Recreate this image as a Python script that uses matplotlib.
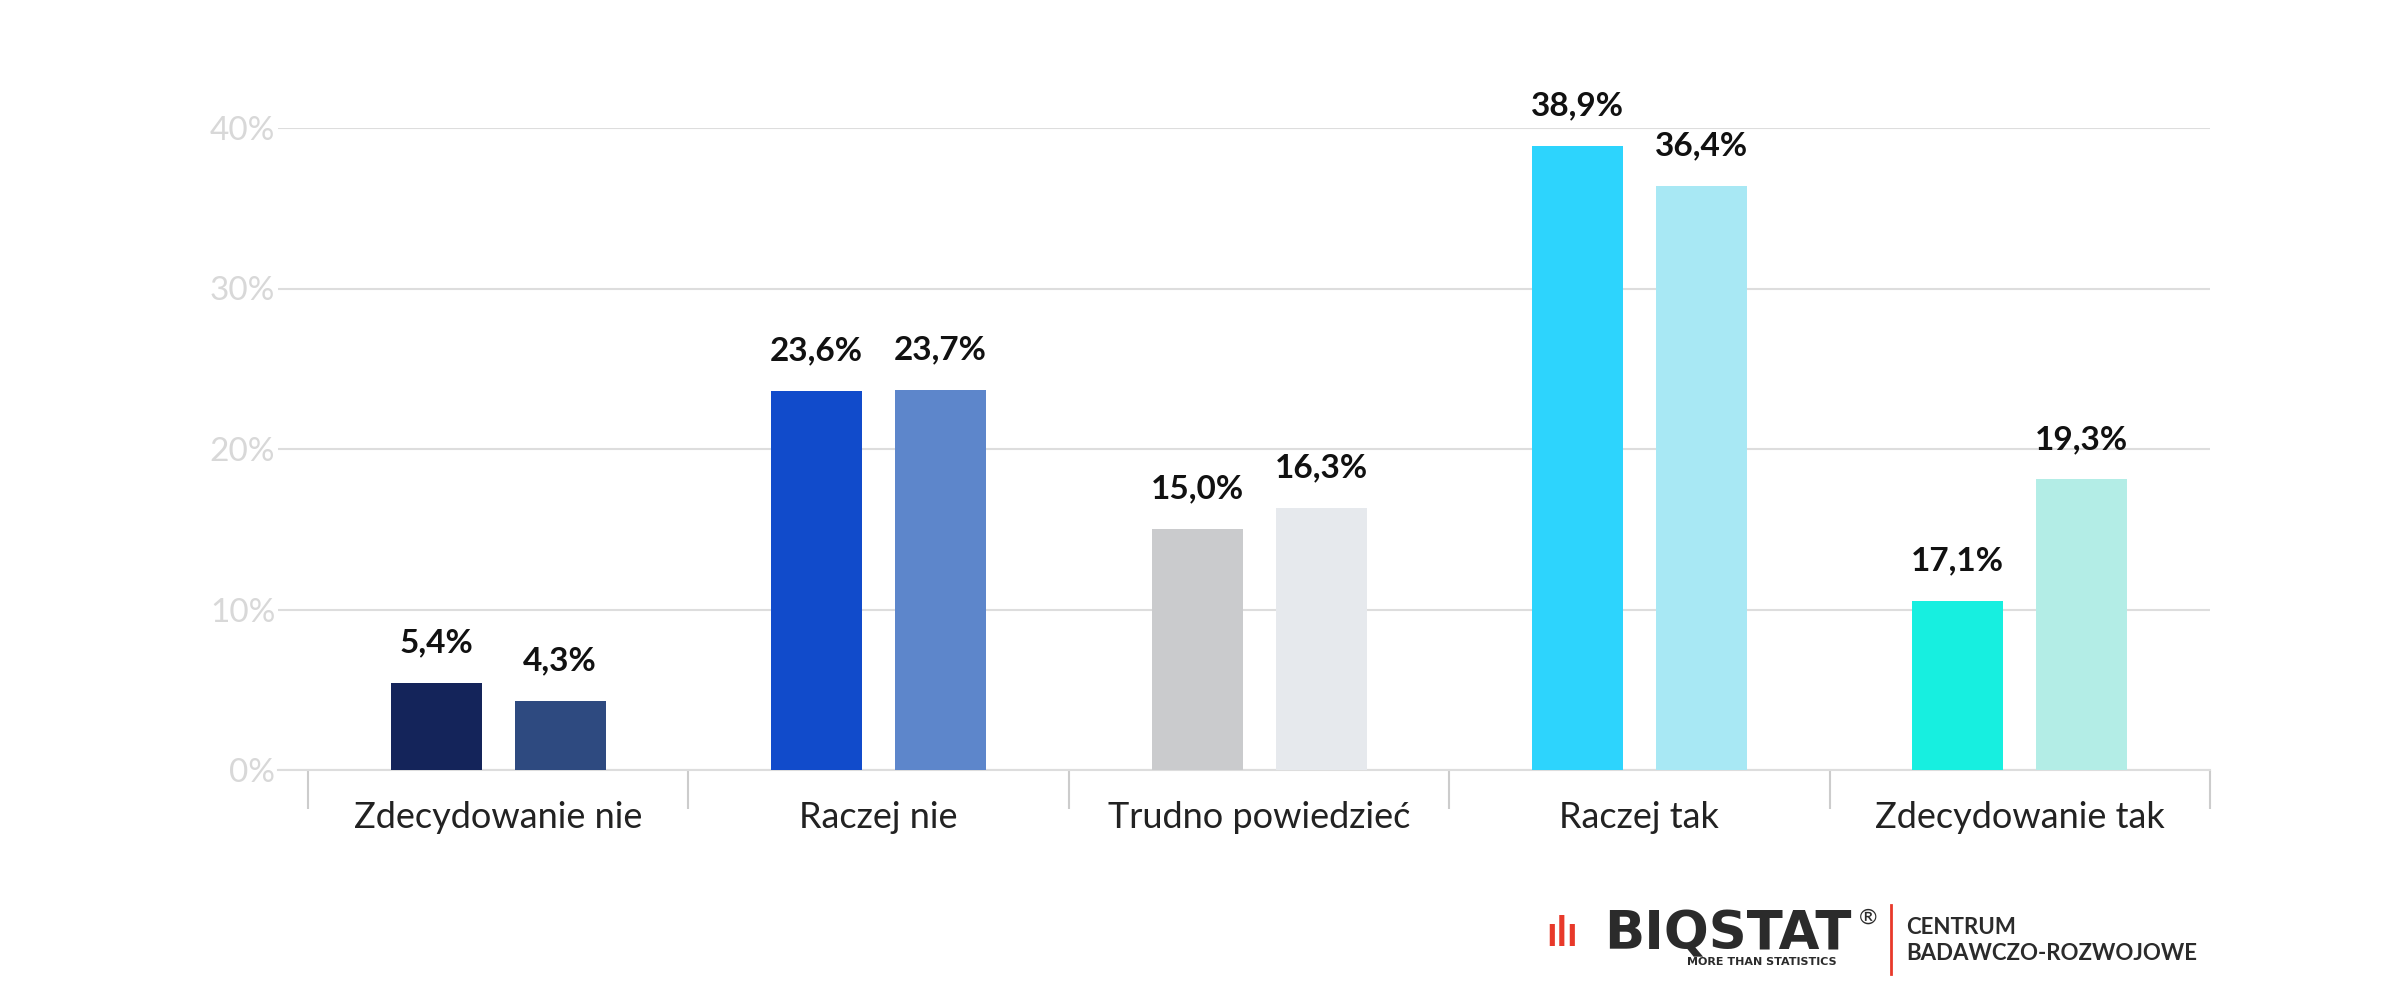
import matplotlib.pyplot as plt
import numpy as np

plt.rcParams['font.family'] = ['Lato', 'DejaVu Sans']

categories = ['Zdecydowanie nie', 'Raczej nie', 'Trudno powiedzieć', 'Raczej tak', 'Zdecydowanie tak']
# bar heights as drawn in the picture, labels as printed
heights_a = [5.4, 23.6, 15.0, 38.9, 10.5]
heights_b = [4.3, 23.7, 16.3, 36.4, 18.1]
labels_a = ['5,4%', '23,6%', '15,0%', '38,9%', '17,1%']
labels_b = ['4,3%', '23,7%', '16,3%', '36,4%', '19,3%']
colors_a = ['#14245a', '#114bcb', '#cacbcd', '#2dd4fd', '#17efe0']
colors_b = ['#2e4a80', '#5d86cb', '#e6e9ed', '#a8e8f4', '#b3ede6']

W, H = 2382, 981
fig = plt.figure(figsize=(W / 100, H / 100), dpi=100)
ax = fig.add_axes([278 / W, 1 - 770 / H, (2210 - 278) / W, (770 - 128) / H])

x = np.arange(len(categories))
off = 62 / 380.4
w = 91 / 380.4
ax.bar(x - off, heights_a, w, color=colors_a, zorder=3)
ax.bar(x + off, heights_b, w, color=colors_b, zorder=3)
for i in x:
    ax.text(i - off, heights_a[i] + 1.6, labels_a[i], ha='center', va='bottom',
            fontsize=24, fontweight='bold', color='#111111')
    ax.text(i + off, heights_b[i] + 1.6, labels_b[i], ha='center', va='bottom',
            fontsize=24, fontweight='bold', color='#111111')

ax.set_xlim(-0.5 - 30 / 380.4, 4.5)
ax.set_ylim(0, 40)
ax.set_yticks([0, 10, 20, 30, 40])
ax.set_yticklabels(['0%', '10%', '20%', '30%', '40%'], fontsize=24, color='#d8d8d8')
ax.yaxis.grid(True, color='#dddddd', linewidth=1.5, zorder=0)
ax.tick_params(axis='y', length=0, pad=2)
ax.set_xticks(np.arange(-0.5, 5, 1), minor=False)
ax.set_xticklabels([])
ax.set_xticks(x, minor=True)
ax.set_xticklabels(categories, minor=True, fontsize=26, color='#222222')
ax.tick_params(axis='x', which='major', length=28, color='#cccccc', width=1.5)
ax.tick_params(axis='x', which='minor', length=0, pad=22)
for s in ['top', 'right', 'left']:
    ax.spines[s].set_visible(False)
ax.spines['bottom'].set_color('#dddddd')
ax.spines['bottom'].set_linewidth(1.5)

# logo
fig.text(1546 / W, 1 - 934 / H, 'ılı', fontsize=30, fontweight='bold', color='#e8392a', ha='left', va='center')
fig.text(1728 / W, 1 - 934 / H, 'BIQSTAT', fontsize=38, fontweight='bold', color='#2b2b2b',
         ha='center', va='center', family='DejaVu Sans')
fig.text(1868 / W, 1 - 918 / H, '®', fontsize=16, color='#2b2b2b', ha='center', va='center')
fig.text(1762 / W, 1 - 962 / H, 'MORE THAN STATISTICS', fontsize=8, fontweight='bold', color='#2b2b2b',
         ha='center', va='center', family='DejaVu Sans')
fig.add_artist(plt.Line2D([1891 / W, 1891 / W], [1 - 905 / H, 1 - 974 / H], color='#e8392a', lw=2))
fig.text(1906 / W, 1 - 927 / H, 'CENTRUM', fontsize=16, fontweight='bold', color='#2b2b2b', ha='left', va='center')
fig.text(1906 / W, 1 - 953 / H, 'BADAWCZO-ROZWOJOWE', fontsize=16, fontweight='bold', color='#2b2b2b', ha='left', va='center')

fig.savefig('out.png', dpi=100, facecolor='white')
